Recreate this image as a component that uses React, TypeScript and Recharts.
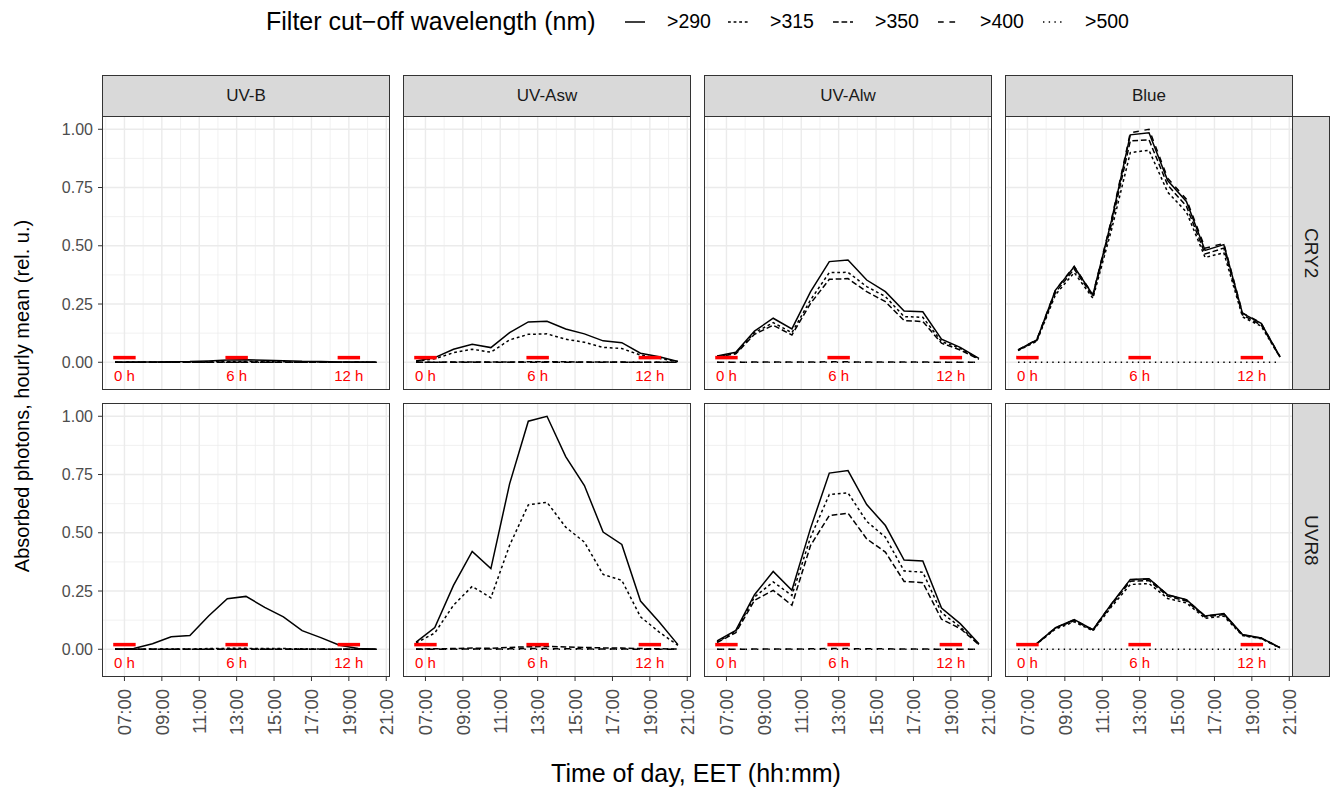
import React from 'react'
import {
  LineChart, Line, XAxis, YAxis, CartesianGrid, ReferenceLine, ReferenceDot,
} from 'recharts'

const FONT = '"Liberation Sans", Arial, Helvetica, sans-serif'

// hourly means, centred on the half hour (EET)
const hours = [6.5, 7.5, 8.5, 9.5, 10.5, 11.5, 12.5, 13.5, 14.5, 15.5, 16.5, 17.5, 18.5, 19.5, 20.5]
const filters = ['>290', '>315', '>350', '>400', '>500']
const dashes = [undefined, '2.8 2.8', '5.7 2.8', '5.7 5.7', '1.4 4.3']
const bands = ['UV-B', 'UV-Asw', 'UV-Alw', 'Blue']
const receptors = ['CRY2', 'UVR8']

const xTicks = [7, 9, 11, 13, 15, 17, 19, 21]
const xMinor = [6, 8, 10, 12, 14, 16, 18, 20]
const yTicks = [0, 0.25, 0.5, 0.75, 1]
const yMinor = [0.125, 0.375, 0.625, 0.875]

// solar time marks (0 h, 6 h, 12 h)
const markHours = [7, 13, 19]
const markLabels = ['0 h', '6 h', '12 h']

// one row per filter: >290, >315, >350, >400, >500
const cry2UvB = [
  [0, 0.001, 0.001, 0.002, 0.003, 0.006, 0.01, 0.011, 0.009, 0.007, 0.004, 0.003, 0.001, 0.001, 0],
  [0, 0, 0, 0.001, 0.001, 0.002, 0.003, 0.003, 0.003, 0.002, 0.001, 0.001, 0, 0, 0],
  [0, 0, 0, 0, 0, 0, 0, 0, 0, 0, 0, 0, 0, 0, 0],
  [0, 0, 0, 0, 0, 0, 0, 0, 0, 0, 0, 0, 0, 0, 0],
  [0, 0, 0, 0, 0, 0, 0, 0, 0, 0, 0, 0, 0, 0, 0],
]
const cry2UvAsw = [
  [0.005, 0.02, 0.056, 0.077, 0.063, 0.127, 0.173, 0.176, 0.143, 0.122, 0.092, 0.084, 0.039, 0.024, 0.003],
  [0.004, 0.015, 0.041, 0.056, 0.043, 0.096, 0.12, 0.122, 0.099, 0.086, 0.064, 0.059, 0.031, 0.017, 0.003],
  [0, 0, 0.001, 0.001, 0.001, 0.001, 0.002, 0.002, 0.002, 0.001, 0.001, 0.001, 0, 0, 0],
  [0, 0, 0, 0, 0, 0, 0, 0, 0, 0, 0, 0, 0, 0, 0],
  [0, 0, 0, 0, 0, 0, 0, 0, 0, 0, 0, 0, 0, 0, 0],
]
const cry2UvAlw = [
  [0.027, 0.043, 0.134, 0.189, 0.143, 0.303, 0.432, 0.439, 0.353, 0.303, 0.22, 0.217, 0.099, 0.064, 0.017],
  [0.025, 0.039, 0.127, 0.17, 0.127, 0.268, 0.385, 0.386, 0.325, 0.282, 0.196, 0.193, 0.089, 0.06, 0.014],
  [0.024, 0.036, 0.12, 0.159, 0.117, 0.253, 0.356, 0.359, 0.303, 0.26, 0.179, 0.175, 0.082, 0.053, 0.013],
  [0, 0, 0.001, 0.001, 0.001, 0.001, 0.002, 0.002, 0.001, 0.001, 0.001, 0.001, 0, 0, 0],
  [0, 0, 0, 0, 0, 0, 0, 0, 0, 0, 0, 0, 0, 0, 0],
]
const cry2Blue = [
  [0.053, 0.096, 0.31, 0.41, 0.289, 0.61, 0.976, 0.985, 0.78, 0.69, 0.48, 0.505, 0.21, 0.167, 0.024],
  [0.05, 0.09, 0.29, 0.385, 0.275, 0.57, 0.9, 0.91, 0.73, 0.645, 0.45, 0.47, 0.195, 0.155, 0.022],
  [0.052, 0.094, 0.3, 0.4, 0.283, 0.595, 0.95, 0.955, 0.76, 0.67, 0.465, 0.49, 0.203, 0.16, 0.023],
  [0.053, 0.097, 0.31, 0.412, 0.29, 0.615, 0.985, 1.0, 0.79, 0.7, 0.49, 0.51, 0.212, 0.168, 0.024],
  [0, 0, 0, 0, 0, 0, 0, 0, 0, 0, 0, 0, 0, 0, 0],
]
const uvr8UvB = [
  [0, 0.003, 0.024, 0.054, 0.059, 0.143, 0.217, 0.227, 0.18, 0.139, 0.08, 0.05, 0.017, 0.003, 0],
  [0, 0, 0.001, 0.001, 0.001, 0.003, 0.004, 0.004, 0.003, 0.003, 0.002, 0.001, 0, 0, 0],
  [0, 0, 0, 0, 0, 0, 0, 0, 0, 0, 0, 0, 0, 0, 0],
  [0, 0, 0, 0, 0, 0, 0, 0, 0, 0, 0, 0, 0, 0, 0],
  [0, 0, 0, 0, 0, 0, 0, 0, 0, 0, 0, 0, 0, 0, 0],
]
const uvr8UvAsw = [
  [0.031, 0.093, 0.274, 0.42, 0.346, 0.71, 0.979, 1.0, 0.827, 0.703, 0.503, 0.45, 0.207, 0.117, 0.02],
  [0.027, 0.07, 0.189, 0.27, 0.221, 0.446, 0.62, 0.631, 0.524, 0.46, 0.321, 0.296, 0.139, 0.074, 0.017],
  [0.001, 0.002, 0.003, 0.005, 0.004, 0.008, 0.011, 0.012, 0.01, 0.008, 0.006, 0.005, 0.003, 0.002, 0.001],
  [0, 0, 0.001, 0.001, 0.001, 0.002, 0.003, 0.003, 0.002, 0.002, 0.001, 0.001, 0, 0, 0],
  [0, 0, 0, 0, 0, 0, 0, 0, 0, 0, 0, 0, 0, 0, 0],
]
const uvr8UvAlw = [
  [0.036, 0.081, 0.234, 0.334, 0.253, 0.52, 0.756, 0.767, 0.621, 0.531, 0.383, 0.379, 0.177, 0.11, 0.024],
  [0.031, 0.077, 0.224, 0.289, 0.231, 0.481, 0.664, 0.671, 0.549, 0.481, 0.336, 0.331, 0.157, 0.096, 0.021],
  [0.029, 0.071, 0.21, 0.253, 0.189, 0.446, 0.574, 0.584, 0.474, 0.417, 0.291, 0.286, 0.129, 0.089, 0.02],
  [0, 0, 0.001, 0.001, 0.001, 0.002, 0.003, 0.003, 0.002, 0.002, 0.001, 0.001, 0, 0, 0],
  [0, 0, 0, 0, 0, 0, 0, 0, 0, 0, 0, 0, 0, 0, 0],
]
const uvr8Blue = [
  [0.024, 0.024, 0.093, 0.127, 0.084, 0.196, 0.3, 0.303, 0.234, 0.213, 0.143, 0.153, 0.063, 0.049, 0.007],
  [0.022, 0.023, 0.087, 0.118, 0.079, 0.183, 0.278, 0.282, 0.218, 0.199, 0.133, 0.142, 0.059, 0.045, 0.006],
  [0.023, 0.024, 0.091, 0.123, 0.082, 0.19, 0.292, 0.295, 0.228, 0.207, 0.139, 0.149, 0.061, 0.047, 0.007],
  [0.024, 0.024, 0.092, 0.126, 0.084, 0.195, 0.298, 0.302, 0.233, 0.212, 0.142, 0.152, 0.062, 0.048, 0.007],
  [0, 0, 0, 0, 0, 0, 0, 0, 0, 0, 0, 0, 0, 0, 0],
]

const panels = [
  [cry2UvB, cry2UvAsw, cry2UvAlw, cry2Blue],
  [uvr8UvB, uvr8UvAsw, uvr8UvAlw, uvr8Blue],
]

// layout
const colLeft = [102, 403, 704, 1005]
const rowTop = [116, 403]
const PW = 288
const PH = 274
const Y_AXIS_W = 60
const X_AXIS_H = 70
const RIGHT_PAD = 12
const X_DOMAIN = [5.8, 21.2]
const Y_DOMAIN = [-0.119, 1.057]

const fmtHour = (h: number) => `${String(h).padStart(2, '0')}:00`

function TimeTick({ x, y, payload }: any) {
  return (
    <text
      x={x} y={y} transform={`rotate(-90 ${x} ${y})`}
      textAnchor="end" dy="0.36em" fontSize={18.5} fill="#4D4D4D" fontFamily={FONT}
    >
      {fmtHour(payload.value)}
    </text>
  )
}

function Panel({ r, c }: { r: number; c: number }) {
  const series = panels[r][c]
  const data = hours.map((h, i) => {
    const row: Record<string, number> = { h }
    filters.forEach((_, k) => { row['s' + k] = series[k][i] })
    return row
  })
  const yW = c === 0 ? Y_AXIS_W : 0
  const xH = r === 1 ? X_AXIS_H : 0

  return (
    <div style={{ position: 'absolute', left: colLeft[c] - yW, top: rowTop[r] }}>
      <LineChart
        width={PW + yW + RIGHT_PAD} height={PH + xH} data={data}
        margin={{ top: 0, right: RIGHT_PAD, bottom: 0, left: 0 }}
      >
        <CartesianGrid horizontalValues={yMinor} verticalValues={xMinor} stroke="#EBEBEB" strokeWidth={0.7} />
        <CartesianGrid horizontalValues={yTicks} verticalValues={xTicks} stroke="#EBEBEB" strokeWidth={1.4} />
        <XAxis
          type="number" dataKey="h" domain={X_DOMAIN} ticks={xTicks} allowDataOverflow
          hide={r === 0} height={X_AXIS_H} axisLine={false}
          tickLine={{ stroke: '#333333' }} tickSize={4} tickMargin={8}
          tick={<TimeTick />} interval={0}
        />
        <YAxis
          type="number" domain={Y_DOMAIN} ticks={yTicks} allowDataOverflow
          hide={c !== 0} width={Y_AXIS_W} axisLine={false}
          tickLine={{ stroke: '#333333' }} tickSize={4} tickMargin={5}
          tickFormatter={(v: number) => v.toFixed(2)}
          tick={{ fill: '#4D4D4D', fontSize: 16, fontFamily: FONT }} interval={0}
        />
        {filters.map((f, k) => (
          <Line
            key={f} type="linear" dataKey={'s' + k} name={f}
            stroke="#000" strokeWidth={1.5} strokeDasharray={dashes[k]}
            dot={false} activeDot={false} isAnimationActive={false}
          />
        ))}
        {markHours.map((h) => (
          <ReferenceLine
            key={'seg' + h}
            segment={[{ x: h - 0.6, y: 0.02 }, { x: h + 0.6, y: 0.02 }]}
            stroke="#FF0000" strokeWidth={3.5}
          />
        ))}
        {markHours.map((h, i) => (
          <ReferenceDot
            key={'lab' + h} x={h} y={-0.058} r={0}
            shape={(p: any) => (
              <text
                x={p.cx} y={p.cy} textAnchor="middle" dominantBaseline="central"
                fill="#FF0000" fontSize={15} fontFamily={FONT}
              >
                {markLabels[i]}
              </text>
            )}
          />
        ))}
      </LineChart>
      <div
        style={{
          position: 'absolute', left: yW, top: 0, width: PW, height: PH,
          border: '1.5px solid #333333', boxSizing: 'border-box', pointerEvents: 'none',
        }}
      />
    </div>
  )
}

const legendKeyX = [625, 728, 833, 938, 1043]

export default function App() {
  return (
    <div
      style={{
        position: 'absolute', left: 0, top: 0, width: 1335, height: 788,
        background: '#fff', fontFamily: FONT, overflow: 'hidden',
      }}
    >
      <svg width={1335} height={788} style={{ position: 'absolute', left: 0, top: 0 }}>
        <text x={266} y={30} fontSize={25} fill="#000" fontFamily={FONT}>
          Filter cut−off wavelength (nm)
        </text>
        {filters.map((f, k) => (
          <g key={f}>
            <line
              x1={legendKeyX[k]} x2={legendKeyX[k] + 20} y1={22} y2={22}
              stroke="#000" strokeWidth={1.5} strokeDasharray={dashes[k]}
            />
            <text x={legendKeyX[k] + 42} y={28} fontSize={19.5} fill="#000" fontFamily={FONT}>
              {f}
            </text>
          </g>
        ))}
        <text x={696} y={782} fontSize={25} textAnchor="middle" fill="#000" fontFamily={FONT}>
          Time of day, EET (hh:mm)
        </text>
        <text
          x={22} y={396} transform="rotate(-90 22 396)" fontSize={20}
          textAnchor="middle" dominantBaseline="central" fill="#000" fontFamily={FONT}
        >
          Absorbed photons, hourly mean (rel. u.)
        </text>
      </svg>

      {bands.map((b, c) => (
        <div
          key={b}
          style={{
            position: 'absolute', left: colLeft[c], top: 75, width: PW, height: 42,
            background: '#D9D9D9', border: '1.5px solid #333333', boxSizing: 'border-box',
            display: 'flex', alignItems: 'center', justifyContent: 'center',
            fontSize: 17, color: '#1A1A1A',
          }}
        >
          {b}
        </div>
      ))}
      {receptors.map((rc, r) => (
        <div
          key={rc}
          style={{
            position: 'absolute', left: colLeft[3] + PW - 1.5, top: rowTop[r], width: 38, height: PH,
            background: '#D9D9D9', border: '1.5px solid #333333', boxSizing: 'border-box',
            display: 'flex', alignItems: 'center', justifyContent: 'center',
            writingMode: 'vertical-rl', fontSize: 19, color: '#1A1A1A',
          }}
        >
          {rc}
        </div>
      ))}

      {receptors.map((_, r) => bands.map((__, c) => <Panel key={r + '-' + c} r={r} c={c} />))}
    </div>
  )
}
